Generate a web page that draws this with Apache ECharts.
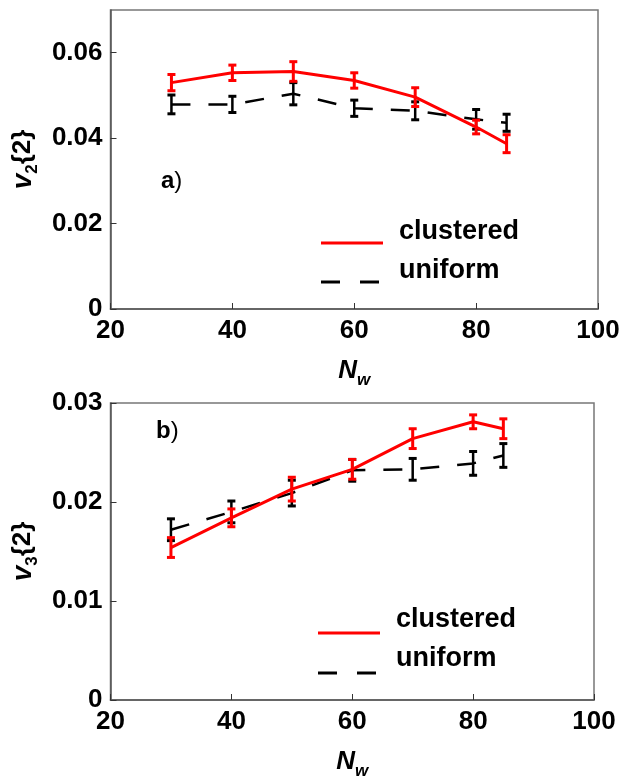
<!DOCTYPE html>
<html>
<head>
<meta charset="utf-8">
<script src="https://cdn.jsdelivr.net/npm/echarts@6/dist/echarts.min.js"></script>
<style>
  html, body { margin: 0; padding: 0; background: #fff; }
  #chart { width: 630px; height: 781px; }
</style>
</head>
<body>
<div id="chart"></div>
<script>
// N_w values shared by both panels
const nw = [30, 40, 50, 60, 70, 80, 85];

// panel a) v2{2}
const v2Clustered = [0.0530, 0.0553, 0.0556, 0.0535, 0.0496, 0.0426, 0.0387];
const v2ClusteredErr = [0.0019, 0.0018, 0.0023, 0.0018, 0.0022, 0.0016, 0.0021];
const v2Uniform = [0.0479, 0.0479, 0.0504, 0.0470, 0.0464, 0.0444, 0.0436];
const v2UniformErr = [0.0022, 0.0019, 0.0026, 0.0019, 0.0021, 0.0023, 0.0020];

// panel b) v3{2}
const v3Clustered = [0.0154, 0.0184, 0.0213, 0.0233, 0.0264, 0.0281, 0.0274];
const v3ClusteredErr = [0.0010, 0.0009, 0.0012, 0.0010, 0.0010, 0.0007, 0.0010];
const v3Uniform = [0.0172, 0.0190, 0.0209, 0.0232, 0.0233, 0.0239, 0.0247];
const v3UniformErr = [0.0011, 0.0011, 0.0013, 0.0011, 0.0011, 0.0012, 0.0012];

const legendNames = ['clustered', 'uniform'];
const panelLabels = ['a', 'b'];

const FONT = 'Liberation Sans';
const RED = '#ff0000';

const chart = echarts.init(document.getElementById('chart'));

function pairs (ys) {
  return nw.map((x, i) => [x, ys[i]]);
}
function bars (ys, errs) {
  return nw.map((x, i) => [x, ys[i] - errs[i], ys[i] + errs[i]]);
}

// error bar: vertical stroke with two caps
function errorBar (color, width) {
  return function (params, api) {
    const x = api.value(0);
    const lo = api.coord([x, api.value(1)]);
    const hi = api.coord([x, api.value(2)]);
    const h = 4;
    const style = { stroke: color, lineWidth: width };
    return {
      type: 'group',
      children: [
        { type: 'line', shape: { x1: lo[0], y1: lo[1], x2: hi[0], y2: hi[1] }, style },
        { type: 'line', shape: { x1: lo[0] - h, y1: lo[1], x2: lo[0] + h, y2: lo[1] }, style: { ...style, lineWidth: 3 } },
        { type: 'line', shape: { x1: hi[0] - h, y1: hi[1], x2: hi[0] + h, y2: hi[1] }, style: { ...style, lineWidth: 3 } }
      ]
    };
  };
}

function xAxisOf (gridIndex, gap) {
  return {
    gridIndex,
    type: 'value',
    min: 20,
    max: 100,
    interval: 20,
    name: '{n|N}{w|w}',
    nameLocation: 'middle',
    nameGap: gap,
    nameTextStyle: {
      rich: {
        n: { fontFamily: FONT, fontSize: 26, fontWeight: 'bold', fontStyle: 'italic', color: '#000', lineHeight: 30 },
        w: { fontFamily: FONT, fontSize: 17, fontWeight: 'bold', fontStyle: 'italic', color: '#000', lineHeight: 30, verticalAlign: 'bottom', padding: [0, 0, -3, 0] }
      }
    },
    axisLine: { onZero: false, lineStyle: { color: '#555', width: 1.5 } },
    axisTick: { inside: true, length: 6, lineStyle: { color: '#333', width: 1 } },
    axisLabel: { color: '#000', fontFamily: FONT, fontSize: 26, fontWeight: 'bold', margin: 9 },
    splitLine: { show: false }
  };
}

function yAxisOf (gridIndex, max, interval, sub, gap) {
  return {
    gridIndex,
    type: 'value',
    min: 0,
    max,
    interval,
    name: '{v|v}{s|' + sub + '}{t|{2}}',
    nameLocation: 'middle',
    nameRotate: 90,
    nameGap: gap,
    nameTextStyle: {
      fontFamily: FONT, fontSize: 26, fontWeight: 'bold', color: '#000', lineHeight: 30,
      rich: {
        v: { fontFamily: FONT, fontSize: 28, fontWeight: 'bold', fontStyle: 'italic', color: '#000', lineHeight: 30 },
        s: { fontFamily: FONT, fontSize: 17, fontWeight: 'bold', color: '#000', lineHeight: 30, verticalAlign: 'bottom', padding: [0, 0, -3, 0] },
        t: { fontFamily: FONT, fontSize: 26, fontWeight: 'bold', color: '#000', lineHeight: 30 }
      }
    },
    axisLine: { onZero: false, lineStyle: { color: '#555', width: 1.5 } },
    axisTick: { inside: true, length: 6, lineStyle: { color: '#333', width: 1 } },
    axisLabel: {
      color: '#000', fontFamily: FONT, fontSize: 26, fontWeight: 'bold', margin: 8,
      showMaxLabel: max % interval < 1e-9 || Math.abs(max % interval - interval) < 1e-9,
      formatter: v => (v === 0 ? '0' : v.toFixed(2))
    },
    splitLine: { show: false }
  };
}

// hand-made legend and panel tag, placed in pixels
function legendGraphics (x, yRed, yDash, yText1, yText2, tagX, tagY, tag) {
  const txt = (t, y) => ({
    type: 'text', left: x + 78, top: y - 15,
    style: { text: t, font: 'bold 27px "' + FONT + '"', fill: '#000' }
  });
  return [
    { type: 'line', shape: { x1: x, y1: yRed, x2: x + 62, y2: yRed }, style: { stroke: RED, lineWidth: 3 } },
    { type: 'line', shape: { x1: x, y1: yDash, x2: x + 19, y2: yDash }, style: { stroke: '#000', lineWidth: 3 } },
    { type: 'line', shape: { x1: x + 39, y1: yDash, x2: x + 58, y2: yDash }, style: { stroke: '#000', lineWidth: 3 } },
    txt(legendNames[0], yText1),
    txt(legendNames[1], yText2),
    {
      type: 'text', left: tagX, top: tagY - 14,
      style: {
        text: '{a|' + tag + '}{p|)}',
        rich: {
          a: { fontFamily: FONT, fontSize: 24, fontWeight: 'bold', fill: '#000' },
          p: { fontFamily: FONT, fontSize: 24, fill: '#000' }
        }
      }
    }
  ];
}

function panelSeries (idx, clu, cluErr, uni, uniErr) {
  return [
    {
      type: 'line', xAxisIndex: idx, yAxisIndex: idx, data: pairs(uni),
      symbol: 'none', lineStyle: { color: '#000', width: 2.5, type: [19, 18] }, z: 2
    },
    {
      type: 'custom', xAxisIndex: idx, yAxisIndex: idx, data: bars(uni, uniErr),
      renderItem: errorBar('#000', 2.5), encode: { x: 0, y: [1, 2] }, z: 3
    },
    {
      type: 'line', xAxisIndex: idx, yAxisIndex: idx, data: pairs(clu),
      symbol: 'none', lineStyle: { color: RED, width: 3 }, z: 4
    },
    {
      type: 'custom', xAxisIndex: idx, yAxisIndex: idx, data: bars(clu, cluErr),
      renderItem: errorBar(RED, 3), encode: { x: 0, y: [1, 2] }, z: 5
    }
  ];
}

const option = {
  animation: false,
  backgroundColor: '#fff',
  grid: [
    { left: 110, top: 10, width: 488, height: 299, show: true, borderColor: '#777', borderWidth: 1.5, backgroundColor: 'transparent' },
    { left: 105, top: 403, width: 489, height: 300, show: true, borderColor: '#777', borderWidth: 1.5, backgroundColor: 'transparent' }
  ],
  xAxis: [xAxisOf(0, 47), xAxisOf(1, 47)],
  yAxis: [yAxisOf(0, 0.07, 0.02, '2', 63), yAxisOf(1, 0.03, 0.01, '3', 62)],
  series: [
    ...panelSeries(0, v2Clustered, v2ClusteredErr, v2Uniform, v2UniformErr),
    ...panelSeries(1, v3Clustered, v3ClusteredErr, v3Uniform, v3UniformErr)
  ],
  graphic: [
    ...legendGraphics(321, 243, 282, 233, 272, 161, 183, panelLabels[0]),
    ...legendGraphics(318, 633, 673, 621, 660, 156, 433, panelLabels[1])
  ]
};

chart.setOption(option);
</script>
</body>
</html>
